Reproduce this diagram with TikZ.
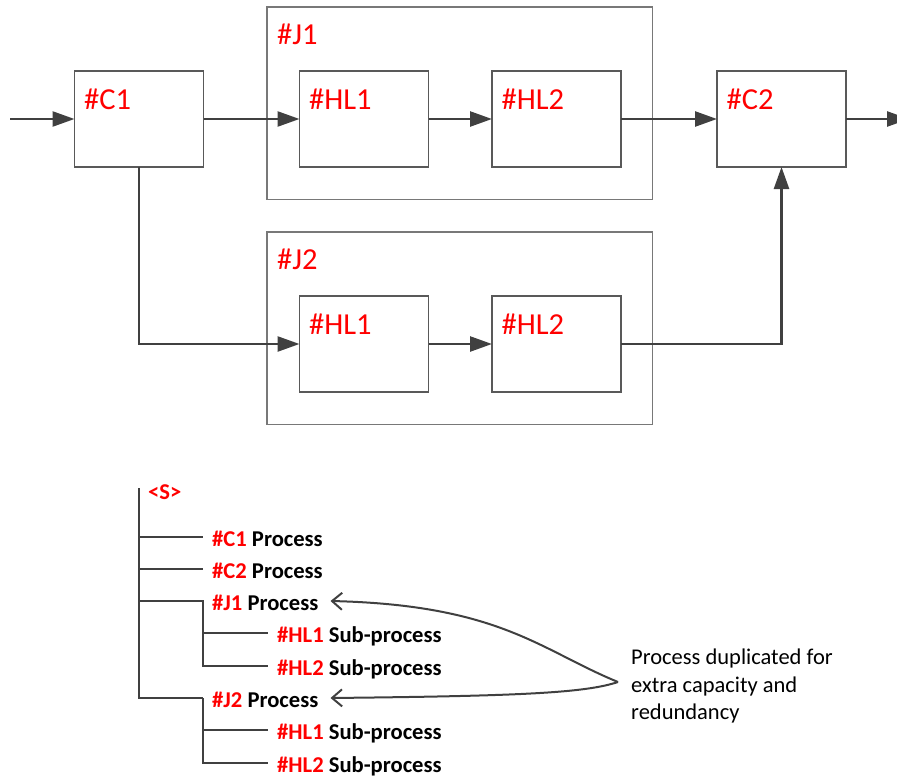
\documentclass[tikz,border=0pt]{standalone}
\usepackage{fontspec}
\setmainfont{Carlito}
\usetikzlibrary{arrows.meta,calc}
\definecolor{redlbl}{RGB}{255,0,0}
\definecolor{linedark}{RGB}{64,64,64}
\definecolor{boxedge}{RGB}{89,89,89}
\definecolor{groupedge}{RGB}{120,120,120}

\begin{document}
\begin{tikzpicture}[x=1pt,y=-1pt,
  groupbox/.style={draw=groupedge, line width=1.5pt, minimum width=385.5pt,
    minimum height=192.5pt, anchor=north west, inner sep=0pt, outer sep=0pt},
  procbox/.style={draw=boxedge, line width=1.5pt, minimum width=129pt,
    minimum height=96pt, anchor=north west, inner sep=0pt, outer sep=0pt},
  boxlabel/.style={text=redlbl, font=\fontsize{30.5}{36}\selectfont,
    anchor=base west, inner sep=0pt},
  flow/.style={draw=linedark, line width=2.5pt,
    -{Triangle[length=22pt,width=15pt]}},
  tnode/.style={anchor=base west, inner xsep=9pt, inner ysep=0pt,
    text height=18pt, text depth=0pt,
    font=\fontsize{22.6}{26}\selectfont\bfseries},
  treeline/.style={draw=linedark, line width=2.3pt},
  notearrow/.style={draw=linedark, line width=2pt,
    -{Straight Barb[length=10pt,width=17pt]}},
  annot/.style={align=left, inner sep=0pt,
    font=\fontsize{22.5}{27.5}\selectfont}
]
\clip (0,0) rectangle (897,776);

% ---- flow diagram ----
\node[groupbox] (J1) at (267,7) {};
\node[groupbox] (J2) at (267,232) {};

\node[procbox] (C1) at (74.5,71) {};
\node[procbox] (HL1a) at (299.5,71) {};
\node[procbox] (HL2a) at (492,71) {};
\node[procbox] (C2) at (717,71) {};
\node[procbox] (HL1b) at (299.5,296) {};
\node[procbox] (HL2b) at (492,296) {};

\node[boxlabel] (lC1) at ($(C1.north west)+(9.5,38)$) {\#C1};
\node[boxlabel] (lC2) at ($(C2.north west)+(9.5,38)$) {\#C2};
\node[boxlabel] (lJ1) at ($(J1.north west)+(10,37.5)$) {\#J1};
\node[boxlabel] (lJ2) at ($(J2.north west)+(10,37.5)$) {\#J2};
\node[boxlabel] (lHL1a) at ($(HL1a.north west)+(9.5,38)$) {\#HL1};
\node[boxlabel] (lHL2a) at ($(HL2a.north west)+(9.5,38)$) {\#HL2};
\node[boxlabel] (lHL1b) at ($(HL1b.north west)+(9.5,38)$) {\#HL1};
\node[boxlabel] (lHL2b) at ($(HL2b.north west)+(9.5,38)$) {\#HL2};

\coordinate (in) at (10,119);
\coordinate (out) at (909,119);

\draw[flow] (in) -- (C1.west);
\draw[flow] (C1.east) -- (HL1a.west);
\draw[flow] (HL1a.east) -- (HL2a.west);
\draw[flow] (HL2a.east) -- (C2.west);
\draw[flow] (C2.east) -- (out);
\draw[flow] (C1.south) |- (HL1b.west);
\draw[flow] (HL1b.east) -- (HL2b.west);
\draw[flow] (HL2b.east) -| (C2.south);

% ---- structure tree ----
\coordinate (trunk) at (139,488);
\node[tnode, text=redlbl] (sroot) at (139,499) {<S>};
\node[tnode] (tc1) at (203,546) {\textcolor{redlbl}{\#C1} Process};
\node[tnode] (tc2) at (203,578) {\textcolor{redlbl}{\#C2} Process};
\node[tnode] (tj1) at (203,610) {\textcolor{redlbl}{\#J1} Process};
\node[tnode] (th1a) at (268,642) {\textcolor{redlbl}{\#HL1} Sub-process};
\node[tnode] (th2a) at (268,675) {\textcolor{redlbl}{\#HL2} Sub-process};
\node[tnode] (tj2) at (203,707) {\textcolor{redlbl}{\#J2} Process};
\node[tnode] (th1b) at (268,739) {\textcolor{redlbl}{\#HL1} Sub-process};
\node[tnode] (th2b) at (268,772) {\textcolor{redlbl}{\#HL2} Sub-process};

\draw[treeline] (trunk) |- (tj2.west);
\draw[treeline] (trunk |- tc1.west) -- (tc1.west);
\draw[treeline] (trunk |- tc2.west) -- (tc2.west);
\draw[treeline] (trunk |- tj1.west) -- (tj1.west) |- (th2a.west);
\draw[treeline] (tj1.west |- th1a.west) -- (th1a.west);
\draw[treeline] (tj2.west) |- (th2b.west);
\draw[treeline] (tj2.west |- th1b.west) -- (th1b.west);

% ---- annotation ----
\node[annot, anchor=north west] (note) at (631,649)
  {Process duplicated for\\extra capacity and\\redundancy};
\coordinate (fork) at (618,682);
\draw[notearrow] (fork) .. controls (540,650) and (500,605) .. ([xshift=3pt]tj1.east);
\draw[notearrow] (fork) .. controls (585,693) and (520,696) .. ([xshift=3pt]tj2.east);
\end{tikzpicture}
\end{document}
